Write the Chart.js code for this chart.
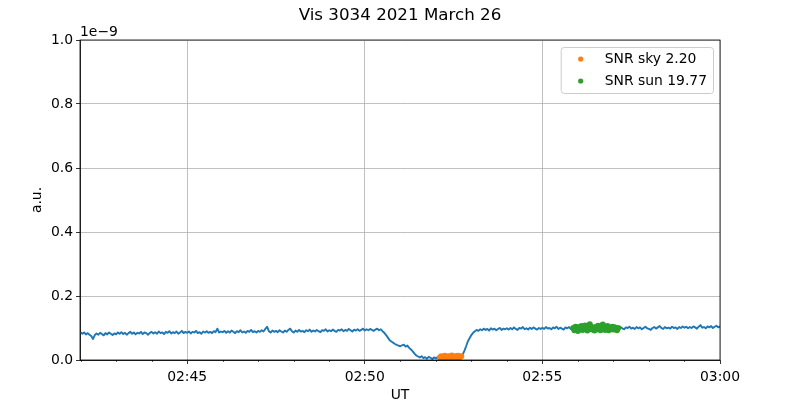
<!DOCTYPE html>
<html>
<head>
<meta charset="utf-8">
<script src="https://cdn.jsdelivr.net/npm/chart.js@4.4.1/dist/chart.umd.min.js"></script>
<style>
  html, body { margin: 0; padding: 0; background: #fff; }
</style>
</head>
<body>
<canvas id="chart" width="800" height="400"></canvas>
<script>
const chartTitle = "Vis 3034 2021 March 26";

// signal in units of 1e-9, one sample every 3 s starting 02:42:00 (one row = one minute)
const lineStart = "02:42:00";
const lineStep = 3;
const lineValues = [
	0.087, 0.082, 0.086, 0.080, 0.084, 0.079, 0.075, 0.066, 0.078, 0.083, 0.079, 0.085, 0.081, 0.077, 0.084, 0.080, 0.086, 0.082, 0.078, 0.083,
	0.080, 0.086, 0.082, 0.087, 0.081, 0.085, 0.079, 0.084, 0.088, 0.082, 0.086, 0.080, 0.085, 0.083, 0.088, 0.081, 0.086, 0.084, 0.079, 0.085,
	0.088, 0.083, 0.087, 0.082, 0.089, 0.084, 0.086, 0.081, 0.088, 0.085, 0.090, 0.083, 0.087, 0.084, 0.089, 0.082, 0.086, 0.091, 0.084, 0.088,
	0.085, 0.089, 0.083, 0.088, 0.086, 0.091, 0.084, 0.087, 0.082, 0.089, 0.086, 0.090, 0.085, 0.088, 0.084, 0.090, 0.087, 0.098, 0.086, 0.089,
	0.087, 0.091, 0.085, 0.090, 0.086, 0.092, 0.088, 0.084, 0.090, 0.087, 0.093, 0.086, 0.089, 0.085, 0.091, 0.088, 0.094, 0.087, 0.090, 0.086,
	0.091, 0.088, 0.093, 0.089, 0.097, 0.104, 0.090, 0.086, 0.092, 0.088, 0.091, 0.087, 0.093, 0.089, 0.086, 0.092, 0.088, 0.094, 0.098, 0.090,
	0.086, 0.092, 0.088, 0.094, 0.089, 0.091, 0.087, 0.093, 0.090, 0.095, 0.088, 0.092, 0.089, 0.094, 0.090, 0.087, 0.093, 0.091, 0.096, 0.089,
	0.093, 0.090, 0.095, 0.091, 0.088, 0.094, 0.092, 0.096, 0.090, 0.094, 0.091, 0.097, 0.093, 0.089, 0.095, 0.092, 0.096, 0.091, 0.094, 0.098,
	0.092, 0.096, 0.093, 0.097, 0.094, 0.091, 0.095, 0.098, 0.093, 0.096, 0.090, 0.085, 0.078, 0.070, 0.062, 0.058, 0.054, 0.050, 0.047, 0.045,
	0.043, 0.046, 0.048, 0.042, 0.045, 0.038, 0.033, 0.027, 0.020, 0.014, 0.011, 0.008, 0.012, 0.006, 0.009, 0.004, 0.010, 0.007, 0.003, 0.008,
	0.005, 0.009, 0.002, 0.007, 0.011, 0.004, 0.008, 0.006, 0.010, 0.005, 0.009, 0.007, 0.004, 0.010, 0.006, 0.015, 0.028, 0.042, 0.058, 0.068,
	0.078, 0.085, 0.090, 0.094, 0.091, 0.096, 0.093, 0.098, 0.094, 0.097, 0.092, 0.099, 0.095, 0.098, 0.093, 0.097, 0.100, 0.094, 0.098, 0.096,
	0.099, 0.095, 0.100, 0.096, 0.102, 0.097, 0.094, 0.100, 0.098, 0.103, 0.096, 0.099, 0.095, 0.101, 0.097, 0.102, 0.098, 0.095, 0.100, 0.097,
	0.101, 0.097, 0.103, 0.098, 0.100, 0.096, 0.102, 0.099, 0.104, 0.097, 0.101, 0.098, 0.095, 0.102, 0.099, 0.103, 0.097, 0.100, 0.096, 0.101,
	0.098, 0.103, 0.099, 0.101, 0.097, 0.104, 0.100, 0.096, 0.102, 0.099, 0.103, 0.098, 0.101, 0.097, 0.102, 0.100, 0.104, 0.098, 0.101, 0.099,
	0.102, 0.098, 0.101, 0.097, 0.103, 0.099, 0.096, 0.102, 0.100, 0.104, 0.098, 0.101, 0.097, 0.103, 0.099, 0.102, 0.096, 0.100, 0.104, 0.099,
	0.097, 0.094, 0.100, 0.103, 0.098, 0.102, 0.106, 0.100, 0.097, 0.103, 0.099, 0.101, 0.098, 0.104, 0.100, 0.102, 0.097, 0.103, 0.100, 0.105,
	0.101, 0.104, 0.099, 0.103, 0.100, 0.105, 0.102, 0.098, 0.104, 0.109, 0.101, 0.103, 0.099, 0.105, 0.102, 0.106, 0.100, 0.104, 0.107, 0.102,
	0.105
];

// sky window (orange), every 2 s
const skyLabel = "SNR sky 2.20";
const skyStart = "02:52:07";
const skyStep = 2;
const skyValues = [
	0.008, 0.012, 0.005, 0.010, 0.013, 0.006, 0.009, 0.012, 0.007, 0.011,
	0.014, 0.008, 0.006, 0.012, 0.009, 0.013, 0.007, 0.010, 0.012
];

// sun window (green), every 2 s
const sunLabel = "SNR sun 19.77";
const sunStart = "02:55:52";
const sunStep = 2;
const sunValues = [
	0.100, 0.093, 0.104, 0.097, 0.091, 0.103, 0.096, 0.106, 0.094, 0.101,
	0.108, 0.098, 0.092, 0.104, 0.112, 0.105, 0.095, 0.101, 0.092, 0.103,
	0.096, 0.107, 0.099, 0.093, 0.105, 0.111, 0.102, 0.094, 0.098, 0.106,
	0.093, 0.100, 0.096, 0.104, 0.095, 0.102, 0.098, 0.093, 0.100
];

const xMin = "02:41:59";
const xMax = "03:00:00";
const yTicks = [0.0, 0.2, 0.4, 0.6, 0.8, 1.0];

const FONT = "'DejaVu Sans', sans-serif";

// minutes after 02:00
function toMin(s) {
	const p = s.split(":").map(Number);
	return (p[0] - 2) * 60 + p[1] + p[2] / 60;
}

function fmtMin(v) {
	const h = 2 + Math.floor(v / 60);
	const m = Math.round(v - (h - 2) * 60);
	return String(h).padStart(2, "0") + ":" + String(m).padStart(2, "0");
}

function toPoints(start, step, values) {
	const t0 = toMin(start);
	return values.map((v, i) => ({ x: t0 + (i * step) / 60, y: v }));
}

const isMajor = (v) => Math.round(v) % 5 === 0;

// extra axis furniture: title, top/right spines, minor ticks, offset text, legend
const framePlugin = {
	id: "frame",
	afterDraw(chart) {
		const { ctx, chartArea: a, scales } = chart;
		ctx.save();

		// title centred on the figure
		ctx.fillStyle = "#000";
		ctx.font = "16.7px " + FONT;
		ctx.textAlign = "center";
		ctx.textBaseline = "middle";
		ctx.fillText(chartTitle, chart.width / 2, 15.5);

		// minor ticks every minute
		ctx.strokeStyle = "#000";
		ctx.lineWidth = 0.6;
		for (let m = Math.ceil(scales.x.min); m <= scales.x.max; m++) {
			if (isMajor(m)) continue;
			const px = Math.round(scales.x.getPixelForValue(m)) + 0.5;
			ctx.beginPath();
			ctx.moveTo(px, a.bottom);
			ctx.lineTo(px, a.bottom + 2);
			ctx.stroke();
		}

		// spines
		ctx.lineWidth = 0.8;
		ctx.strokeRect(a.left, a.top, a.right - a.left, a.bottom - a.top);

		// 1e-9 offset text
		ctx.font = "13.9px " + FONT;
		ctx.textAlign = "left";
		ctx.textBaseline = "alphabetic";
		ctx.fillText("1e\u22129", a.left, a.top - 4);

		// legend
		const items = chart.data.datasets.filter((d) => d.label);
		let maxW = 0;
		items.forEach((d) => (maxW = Math.max(maxW, ctx.measureText(d.label).width)));
		const w = 44 + maxW + 6;
		const h = 46;
		const bx = a.right - 7 - w;
		const by = a.top + 7;
		ctx.beginPath();
		ctx.roundRect(bx + 0.5, by + 0.5, w, h, 3);
		ctx.fillStyle = "rgba(255,255,255,0.8)";
		ctx.fill();
		ctx.strokeStyle = "#cccccc";
		ctx.lineWidth = 1;
		ctx.stroke();
		items.forEach((d, i) => {
			const cy = by + 12 + i * 22;
			ctx.beginPath();
			ctx.arc(bx + 20, cy, 2.6, 0, Math.PI * 2);
			ctx.fillStyle = d.backgroundColor;
			ctx.fill();
			ctx.fillStyle = "#000";
			ctx.textBaseline = "middle";
			ctx.fillText(d.label, bx + 44, cy);
		});

		ctx.restore();
	},
};

new Chart(document.getElementById("chart"), {
	type: "scatter",
	data: {
		datasets: [
			{
				label: skyLabel,
				data: toPoints(skyStart, skyStep, skyValues),
				backgroundColor: "#ff7f0e",
				borderWidth: 0,
				pointRadius: 3,
				clip: 0,
				order: 1,
			},
			{
				label: sunLabel,
				data: toPoints(sunStart, sunStep, sunValues),
				backgroundColor: "#2ca02c",
				borderWidth: 0,
				pointRadius: 3,
				clip: 0,
				order: 2,
			},
			{
				data: toPoints(lineStart, lineStep, lineValues),
				showLine: true,
				borderColor: "#1f77b4",
				borderWidth: 1.9,
				borderJoinStyle: "round",
				pointRadius: 0,
				order: 3,
			},
		],
	},
	options: {
		responsive: false,
		animation: false,
		layout: { padding: { left: 0, right: 80, top: 40, bottom: 0 } },
		plugins: {
			legend: { display: false },
			tooltip: { enabled: false },
		},
		scales: {
			x: {
				type: "linear",
				min: toMin(xMin),
				max: toMin(xMax),
				afterFit: (s) => {
					s.height = 40;
				},
				ticks: {
					stepSize: 1,
					autoSkip: false,
					includeBounds: false,
					maxRotation: 0,
					padding: 5,
					color: "#000",
					font: { family: FONT, size: 13.9 },
					callback: (v) => (isMajor(v) ? fmtMin(v) : ""),
				},
				grid: {
					color: (c) => (c.tick && isMajor(c.tick.value) ? "#b0b0b0" : "rgba(0,0,0,0)"),
					tickColor: (c) => (c.tick && isMajor(c.tick.value) ? "#000" : "rgba(0,0,0,0)"),
					lineWidth: 0.8,
					tickLength: 4,
				},
				border: { color: "#000", width: 0.8 },
				title: {
					display: true,
					text: "UT",
					color: "#000",
					font: { family: FONT, size: 13.9 },
					padding: { top: 0, bottom: -3.3 },
				},
			},
			y: {
				min: 0,
				max: 1,
				afterFit: (s) => {
					s.width = 80;
				},
				afterBuildTicks: (s) => {
					s.ticks = yTicks.map((v) => ({ value: v }));
				},
				ticks: {
					padding: 3,
					color: "#000",
					font: { family: FONT, size: 13.9 },
					callback: (v) => Number(v).toFixed(1),
				},
				grid: {
					color: "#b0b0b0",
					tickColor: "#000",
					lineWidth: 0.8,
					tickLength: 4,
				},
				border: { color: "#000", width: 0.8 },
				title: {
					display: true,
					text: "a.u.",
					color: "#000",
					font: { family: FONT, size: 13.9 },
					padding: { top: 28.7, bottom: 0 },
				},
			},
		},
	},
	plugins: [framePlugin],
});
</script>
</body>
</html>
